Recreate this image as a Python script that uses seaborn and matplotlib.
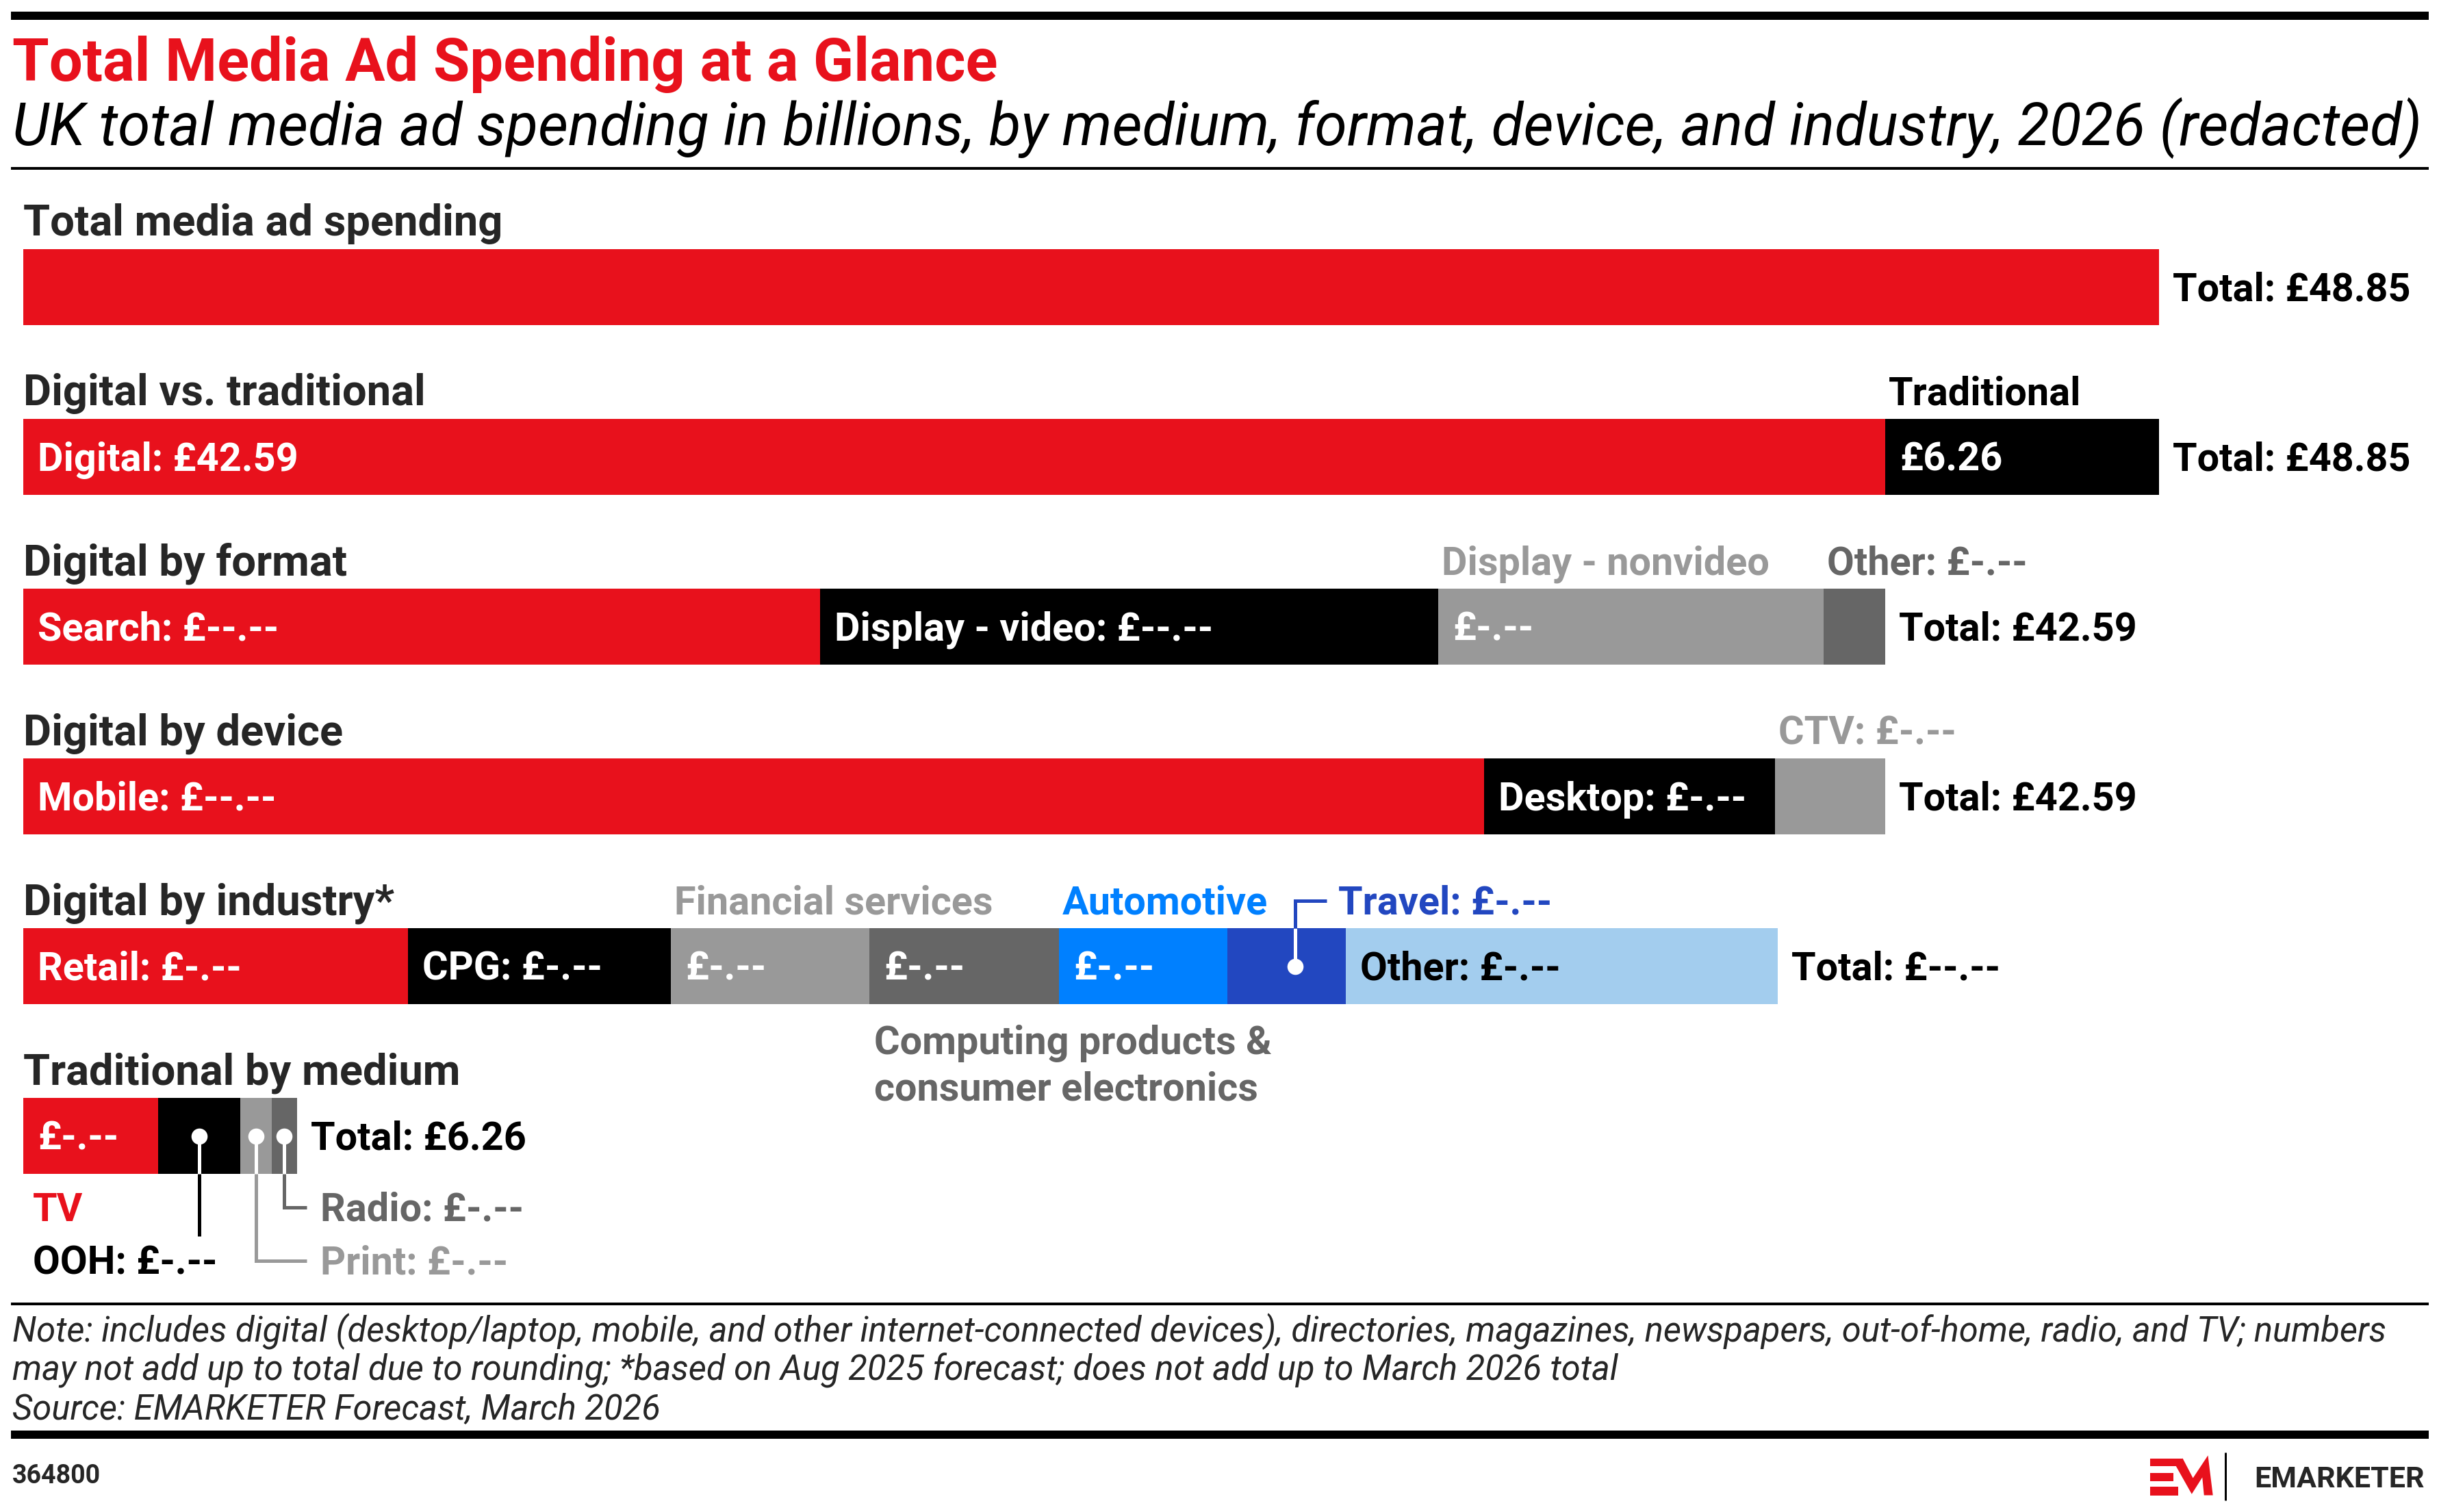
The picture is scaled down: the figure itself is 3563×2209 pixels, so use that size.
import matplotlib
matplotlib.use("Agg")
import matplotlib.pyplot as plt
import matplotlib.transforms as mtransforms
from matplotlib.patches import Polygon
import pandas as pd
import seaborn as sns

# chart rows, top to bottom
ROWS = ["Total media ad spending", "Digital vs. traditional", "Digital by format",
        "Digital by device", "Digital by industry*", "Traditional by medium"]

# segment values in £ billions (redacted ones)
total_values = [48.85]
split_values = [42.59, 6.26]
format_values = [18.22, 14.14, 8.82, 1.41]
device_values = [33.41, 6.65, 2.53]
industry_values = [8.80, 6.01, 4.54, 4.34, 3.85, 2.71, 9.88]
medium_values = [3.08, 1.89, 0.71, 0.58]

total_segments = ["Total"]
split_segments = ["Digital", "Traditional"]
format_segments = ["Search", "Display - video", "Display - nonvideo", "Other"]
device_segments = ["Mobile", "Desktop", "CTV"]
industry_segments = ["Retail", "CPG", "Financial services", "Computing products & consumer electronics",
                     "Automotive", "Travel", "Other"]
medium_segments = ["TV", "OOH", "Print", "Radio"]

# labels printed inside the bars
total_inner = [""]
split_inner = ["Digital: £42.59", "£6.26"]
format_inner = ["Search: £--.--", "Display - video: £--.--", "£-.--", ""]
device_inner = ["Mobile: £--.--", "Desktop: £-.--", ""]
industry_inner = ["Retail: £-.--", "CPG: £-.--", "£-.--", "£-.--", "£-.--", "", "Other: £-.--"]
medium_inner = ["£-.--", "", "", ""]

total_labels = ["Total: £48.85", "Total: £48.85", "Total: £42.59", "Total: £42.59",
                "Total: £--.--", "Total: £6.26"]

TITLE = "Total Media Ad Spending at a Glance"
SUBTITLE = "UK total media ad spending in billions, by medium, format, device, and industry, 2026 (redacted)"
NOTES = ["Note: includes digital (desktop/laptop, mobile, and other internet-connected devices), directories, "
         "magazines, newspapers, out-of-home, radio, and TV; numbers",
         "may not add up to total due to rounding; *based on Aug 2025 forecast; does not add up to March 2026 total",
         "Source: EMARKETER Forecast, March 2026"]

RED = "#E8111C"
GRAY = "#999999"
DARK = "#666666"
BLUE = "#0080FF"
NAVY = "#2247C0"
SKY = "#A3CDEE"

total_colors = [RED]
split_colors = [RED, "black"]
format_colors = [RED, "black", GRAY, DARK]
device_colors = [RED, "black", GRAY]
industry_colors = [RED, "black", GRAY, DARK, BLUE, NAVY, SKY]
medium_colors = [RED, "black", GRAY, DARK]
industry_text = ["white"] * 6 + ["black"]

records = []
groups = [
    (total_segments, total_values, total_inner, total_colors, ["white"]),
    (split_segments, split_values, split_inner, split_colors, ["white"] * 2),
    (format_segments, format_values, format_inner, format_colors, ["white"] * 4),
    (device_segments, device_values, device_inner, device_colors, ["white"] * 3),
    (industry_segments, industry_values, industry_inner, industry_colors, industry_text),
    (medium_segments, medium_values, medium_inner, medium_colors, ["white"] * 4),
]
for i, (segs, vals, inner, cols, tcols) in enumerate(groups):
    start = 0.0
    for j, (seg, v, lab, c, tc) in enumerate(zip(segs, vals, inner, cols, tcols)):
        records.append(dict(row=ROWS[i], ri=i, si=j, segment=seg, value=v, start=start,
                            end=start + v, inner=lab, color=c, tcolor=tc))
        start += v
df = pd.DataFrame(records)

# layout (pixels)
W, H, DPI = 3563, 2209, 100
X0, X1 = 34, 3154
SC = (X1 - X0) / total_values[0]
Y0, ROW = 419.5, 248
BAR_H = 111
HEAD = 45.5   # section header size
LAB = 41.5    # label size

sns.set_style("white")
plt.rcParams["font.family"] = ["Roboto", "DejaVu Sans"]

fig = plt.figure(figsize=(W / DPI, H / DPI), dpi=DPI)
ax = fig.add_axes([0, 0, 1, 1])

# stacked bars: draw cumulative ends, longest first
for _, r in df.iloc[::-1].iterrows():
    sns.barplot(x=[r["end"]], y=[r["row"]], order=ROWS, orient="h", color=r["color"],
                width=BAR_H / ROW, saturation=1, linewidth=0, errorbar=None, ax=ax)

ax.set_xlim(-X0 / SC, (W - X0) / SC)
ax.set_ylim((H - Y0) / ROW, -Y0 / ROW)
ax.axis("off")

pix = mtransforms.Affine2D().scale(1 / W, -1 / H).translate(0, 1) + fig.transFigure


def px(v):
    return X0 + v * SC


def cy(i):
    return Y0 + i * ROW


def cap(size):
    return 0.711 * size / 72 * DPI


def put(x, yc, s, size=LAB, color="black", weight="bold", style="normal", ha="left"):
    ax.text(x, yc + cap(size) / 2, s, transform=pix, fontsize=size, color=color,
            fontweight=weight, fontstyle=style, ha=ha, va="baseline")


def line(xs, ys, color, lw=5):
    ax.plot(xs, ys, transform=pix, color=color, lw=lw * 0.72, solid_capstyle="butt",
            solid_joinstyle="miter")


def dot(x, y):
    ax.plot([x], [y], transform=pix, marker="o", ms=17, color="white", mec="none")


# rules
line([16, 3548], [23, 23], "black", 12)
line([16, 3548], [246, 246], "black", 4)
line([16, 3548], [1905, 1905], "black", 4)
line([16, 3548], [2096, 2096], "black", 12)

# title and subtitle
ax.text(18, 118, TITLE, transform=pix, fontsize=62.5, color=RED, fontweight="bold", va="baseline")
ax.text(18, 212, SUBTITLE, transform=pix, fontsize=61.7, color="black", fontstyle="italic",
        va="baseline")

# section headers and totals
for i, row in enumerate(ROWS):
    top = cy(i) - BAR_H / 2
    ax.text(X0, top - 20, row, transform=pix, fontsize=HEAD, fontweight="bold", va="baseline")
    end = df[df["ri"] == i]["end"].max()
    put(px(end) + 20, cy(i), total_labels[i])

# labels inside bars
for _, r in df.iterrows():
    if r["inner"]:
        put(px(r["start"]) + 21, cy(r["ri"]), r["inner"], color=r["tcolor"])

# labels above bars
above = [(1, 1, "Traditional", "black"), (2, 2, "Display - nonvideo", GRAY),
         (2, 3, "Other: £-.--", DARK), (3, 2, "CTV: £-.--", GRAY),
         (4, 2, "Financial services", GRAY), (4, 4, "Automotive", BLUE)]
for i, j, s, c in above:
    seg = df[(df["ri"] == i) & (df["si"] == j)].iloc[0]
    ax.text(px(seg["start"]) + 5, cy(i) - BAR_H / 2 - 20, s, transform=pix, fontsize=LAB,
            fontweight="bold", color=c, va="baseline")

# travel callout
trav = df[(df["ri"] == 4) & (df["segment"] == "Travel")].iloc[0]
tx = px(trav["start"]) + 0.57 * trav["value"] * SC
ttop = cy(4) - BAR_H / 2
tlab = ttop - 20 - cap(LAB) / 2
line([tx, tx], [cy(4), ttop], "white")
line([tx, tx, tx + 46], [ttop, tlab, tlab], NAVY)
dot(tx, cy(4))
put(tx + 63, tlab, "Travel: £-.--", color=NAVY)

# computing products label below bar
comp = df[(df["ri"] == 4) & (df["si"] == 3)].iloc[0]
put(px(comp["start"]) + 7, cy(4) + 108, "Computing products &", color=DARK)
put(px(comp["start"]) + 7, cy(4) + 176, "consumer electronics", color=DARK)

# traditional by medium callouts
mi = 5
bot = cy(mi) + BAR_H / 2
med = df[df["ri"] == mi].set_index("segment")
trad_end = px(med["end"].max())
put(X0 + 14, cy(mi) + 104, "TV", color=RED)

ox = px(med.loc["OOH", "start"] + med.loc["OOH", "value"] / 2)
line([ox, ox], [cy(mi), bot], "white")
line([ox, ox], [bot, cy(mi) + 146], "black")
dot(ox, cy(mi))
put(X0 + 14, cy(mi) + 182, "OOH: £-.--")

for name, dy, col in [("Radio", 104, DARK), ("Print", 182, GRAY)]:
    mx = px(med.loc[name, "start"] + med.loc[name, "value"] / 2)
    line([mx, mx], [cy(mi), bot], "white")
    line([mx, mx, trad_end + 14], [bot, cy(mi) + dy, cy(mi) + dy], col)
    dot(mx, cy(mi))
    put(trad_end + 34, cy(mi) + dy, f"{name}: £-.--", color=col)

# notes and source
for k, s in enumerate(NOTES):
    ax.text(18, 1960 + k * 56.5, s, transform=pix, fontsize=36.5, fontstyle="italic", va="baseline")

# footer
ax.text(18, 2167, "364800", transform=pix, fontsize=27, fontweight="bold", va="baseline")
ax.text(3542, 2173, "EMARKETER", transform=pix, fontsize=31, fontweight="bold", ha="right",
        va="baseline")
line([3251, 3251], [2122, 2192], "black", 3)


def lz(x, y):
    return (3000 + x / 2.785, 2080 + y / 2.87)


for rect in [(393, 145, 525, 178), (393, 208, 487, 240), (393, 265, 508, 300)]:
    pts = [lz(rect[0], rect[1]), lz(rect[2], rect[1]), lz(rect[2], rect[3]), lz(rect[0], rect[3])]
    ax.add_patch(Polygon(pts, closed=True, color=RED, transform=pix, lw=0))
m_pts = [lz(498, 178), lz(525, 145), lz(567, 228), lz(628, 133), lz(648, 300), lz(612, 300),
         lz(605, 225), lz(562, 295)]
ax.add_patch(Polygon(m_pts, closed=True, color=RED, transform=pix, lw=0))

fig.savefig("out.png", dpi=DPI, facecolor="white")
